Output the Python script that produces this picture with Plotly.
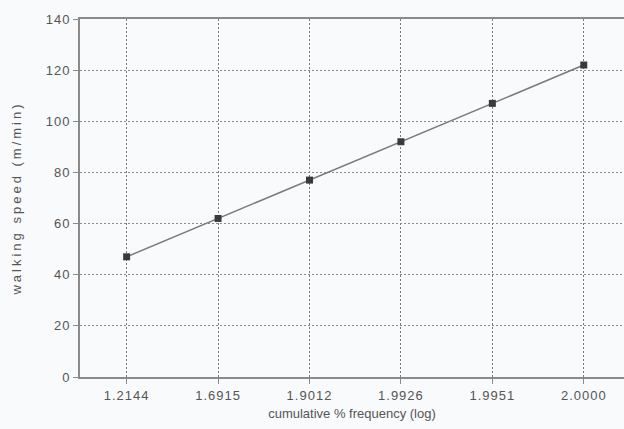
import plotly.graph_objects as go

categories = ["1.2144", "1.6915", "1.9012", "1.9926", "1.9951", "2.0000"]
walking_speed = [47, 62, 77, 92, 107, 122]
y_ticks = [0, 20, 40, 60, 80, 100, 120, 140]

fig = go.Figure()
fig.add_trace(go.Scatter(
    x=categories, y=walking_speed, mode="lines+markers",
    line=dict(color="#7a7a7a", width=1.5),
    marker=dict(symbol="square", size=7, color="#3a3a3a"),
    showlegend=False,
))

fig.update_layout(
    width=624, height=429,
    margin=dict(l=80, r=0, t=19, b=52, autoexpand=False),
    paper_bgcolor="#f8fafc", plot_bgcolor="#f8fafc",
    font=dict(family="Liberation Sans, Arial, sans-serif", size=13, color="#555555"),
)
fig.update_xaxes(
    type="category", range=[-0.51, 5.44], automargin=False,
    showgrid=True, gridcolor="#7a7a7a", gridwidth=1, griddash="2px,2px",
    showline=True, linecolor="#8a8a8a", linewidth=2, mirror=True,
    ticks="outside", ticklen=5, tickcolor="#8a8a8a",
    title=dict(text="cumulative % frequency (log)", standoff=7, font=dict(size=13)),
    zeroline=False,
)
fig.update_yaxes(
    range=[0, 140], tickvals=y_ticks, automargin=False,
    showgrid=True, gridcolor="#8a8a8a", gridwidth=1, griddash="2px,2px",
    showline=True, linecolor="#8a8a8a", linewidth=2,
    ticks="outside", ticklen=5, tickcolor="#8a8a8a",
    title=dict(text="walking speed (m/min)", standoff=24, font=dict(size=13)),
    zeroline=False,
)

post = (
    "document.body.style.margin='0';"
    "document.body.style.overflow='hidden';"
    "document.body.style.background='#f8fafc';"
    "document.querySelectorAll('.xtick text, .ytick text').forEach(function(t){t.style.letterSpacing='1px';});"
    "document.querySelectorAll('.ytitle').forEach(function(t){t.style.letterSpacing='3px';});"
)

fig.write_html("out.html", config={"displayModeBar": False}, post_script=post)
